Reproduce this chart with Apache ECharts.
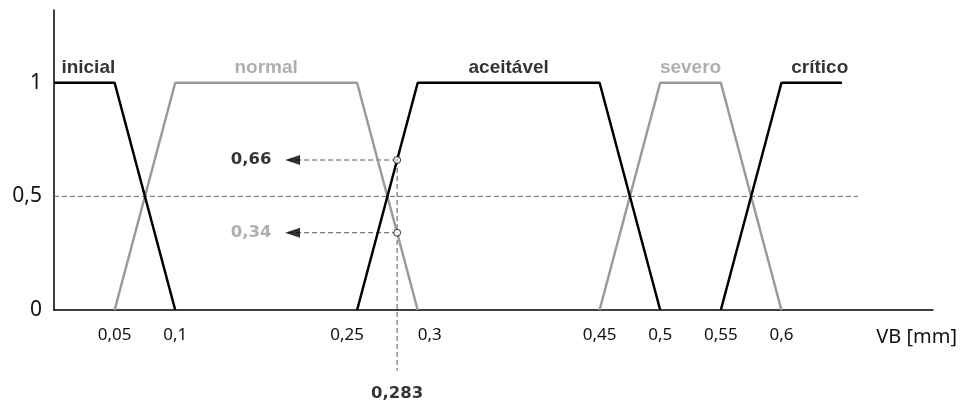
<!DOCTYPE html>
<html>
<head>
<meta charset="utf-8">
<script src="https://cdn.jsdelivr.net/npm/echarts@6/dist/echarts.min.js"></script>
<style>html,body{margin:0;padding:0;background:#fff}#c{width:963px;height:405px}</style>
</head>
<body>
<div id="c"></div>
<script>
// ---- data ----
const CATEGORIES = ['inicial', 'normal', 'aceitável', 'severo', 'crítico'];
const VB_INICIAL = [0, 0.05, 0.1];          const MU_INICIAL = [1, 1, 0];
const VB_NORMAL = [0.05, 0.1, 0.25, 0.3];   const MU_NORMAL = [0, 1, 1, 0];
const VB_ACEITAVEL = [0.25, 0.3, 0.45, 0.5]; const MU_ACEITAVEL = [0, 1, 1, 0];
const VB_SEVERO = [0.45, 0.5, 0.55, 0.6];   const MU_SEVERO = [0, 1, 1, 0];
const VB_CRITICO = [0.55, 0.6, 0.65];       const MU_CRITICO = [0, 1, 1];
const VB_TICKS = [0.05, 0.1, 0.25, 0.3, 0.45, 0.5, 0.55, 0.6];
const MU_TICKS = [0, 0.5, 1];
const VB_INPUT = 0.283;
const MU_OUTPUT = [0.66, 0.34];             // aceitável, normal
const ARROW_X = 0.191;
const REF_X = [0, 0.663];  const REF_Y = [0.5, 0.5];
const DROP_Y = -0.267;
const X_MIN = 0, X_MAX = 0.725, Y_MIN = 0, Y_MAX = 1.32;

const BLACK = '#000', GRAY = '#9b9b9b';
const SERIES_X = [VB_INICIAL, VB_NORMAL, VB_ACEITAVEL, VB_SEVERO, VB_CRITICO];
const SERIES_Y = [MU_INICIAL, MU_NORMAL, MU_ACEITAVEL, MU_SEVERO, MU_CRITICO];
const SERIES_C = [BLACK, GRAY, BLACK, GRAY, BLACK];
const LABEL_NUDGE = [[4, 0], [0, 0], [0, 0], [0, 0], [8, 0]];

const pairs = (xs, ys) => xs.map((x, i) => [x, ys[i]]);
const fmt = v => String(+v.toFixed(3)).replace('.', ',');
const plateauMid = (xs, ys) => {
  const top = xs.filter((x, i) => ys[i] === 1);
  return (Math.min(...top) + Math.max(...top)) / 2;
};

const series = [];
// 0.5 reference dashed line
series.push({
  type: 'line', data: pairs(REF_X, REF_Y), symbol: 'none', silent: true,
  lineStyle: { color: '#666', width: 1, type: [5, 3] }, z: 1
});
// membership functions (gray under black)
[1, 3, 0, 2, 4].forEach(i => {
  series.push({
    type: 'line', name: CATEGORIES[i], data: pairs(SERIES_X[i], SERIES_Y[i]),
    symbol: 'none', lineStyle: { color: SERIES_C[i], width: 2.5 }, z: 3
  });
});
// category labels
series.push({
  type: 'scatter', symbolSize: 0, silent: true, z: 5,
  data: CATEGORIES.map((n, i) => ({
    value: [plateauMid(SERIES_X[i], SERIES_Y[i]), 1], name: n,
    label: { color: SERIES_C[i], offset: LABEL_NUDGE[i] }
  })),
  label: {
    show: true, position: 'top', distance: 5, formatter: p => p.name,
    fontFamily: 'Liberation Sans', fontWeight: 'bold', fontSize: 19
  }
});
// vertical dashed drop line
series.push({
  type: 'line', data: [[VB_INPUT, MU_OUTPUT[0]], [VB_INPUT, DROP_Y]], symbol: 'none',
  clip: false, silent: true, lineStyle: { color: '#555', width: 1, type: [5, 3] }, z: 2
});
// horizontal dashed lines to arrows
MU_OUTPUT.forEach(m => {
  series.push({
    type: 'line', data: [[VB_INPUT, m], [ARROW_X, m]], symbol: 'none', silent: true,
    lineStyle: { color: '#555', width: 1, type: [5, 3] }, z: 2
  });
});
// arrow heads
series.push({
  type: 'scatter', symbol: 'triangle', symbolSize: [10, 15], symbolRotate: 90,
  symbolOffset: [7, 0], itemStyle: { color: BLACK }, silent: true, z: 6,
  data: MU_OUTPUT.map(m => [ARROW_X, m])
});
// membership value labels
series.push({
  type: 'scatter', symbolSize: 0, silent: true, z: 6,
  data: MU_OUTPUT.map((m, i) => ({ value: [ARROW_X, m], label: { color: i === 0 ? BLACK : GRAY } })),
  label: {
    show: true, position: 'left', distance: 14, formatter: p => fmt(p.value[1]),
    fontFamily: 'DejaVu Sans', fontWeight: 'bold', fontSize: 16.5
  }
});
// intersection points
series.push({
  type: 'scatter', symbol: 'circle', symbolSize: 7, silent: true, z: 10,
  itemStyle: { color: '#fff', borderColor: '#000', borderWidth: 1 },
  data: MU_OUTPUT.map(m => [VB_INPUT, m])
});
// input value label
series.push({
  type: 'scatter', symbolSize: 0, clip: false, silent: true, z: 6,
  data: [[VB_INPUT, DROP_Y]],
  label: {
    show: true, position: 'bottom', distance: 15, formatter: p => fmt(p.value[0]),
    color: BLACK, fontFamily: 'DejaVu Sans', fontWeight: 'bold', fontSize: 16.5
  }
});

const SHIFT = { '0.25': 'l', '0.3': 'r' };
const chart = echarts.init(document.getElementById('c'), null, { renderer: 'canvas' });
chart.setOption({
  animation: false,
  backgroundColor: '#fff',
  grid: { left: 54, right: 30, top: 10, bottom: 95 },
  xAxis: {
    type: 'value', min: X_MIN, max: X_MAX,
    name: 'VB [mm]', nameLocation: 'end', nameGap: 24,
    nameTextStyle: { fontFamily: 'Noto Sans', fontSize: 20, color: '#111', align: 'right', verticalAlign: 'top', lineHeight: 54 },
    axisLine: { show: true, onZero: false, lineStyle: { color: '#000', width: 1.5 } },
    axisTick: { show: false },
    splitLine: { show: false },
    axisLabel: {
      customValues: VB_TICKS, margin: 17,
      fontFamily: 'Noto Sans', fontSize: 17, color: '#111',
      formatter: v => {
        const k = String(+v.toFixed(3));
        const s = fmt(v);
        return SHIFT[k] ? '{' + SHIFT[k] + '|' + s + '}' : s;
      },
      rich: {
        l: { fontFamily: 'Noto Sans', fontSize: 17, color: '#111', padding: [0, 20, 0, 0] },
        r: { fontFamily: 'Noto Sans', fontSize: 17, color: '#111', padding: [0, 0, 0, 24] }
      }
    }
  },
  yAxis: {
    type: 'value', min: Y_MIN, max: Y_MAX,
    axisLine: { show: true, onZero: false, lineStyle: { color: '#000', width: 1.5 } },
    axisTick: { show: false },
    splitLine: { show: false },
    axisLabel: {
      customValues: MU_TICKS, margin: 12,
      fontFamily: 'Noto Sans', fontSize: 21, color: '#111',
      formatter: v => fmt(v)
    }
  },
  series: series
});
</script>
</body>
</html>
